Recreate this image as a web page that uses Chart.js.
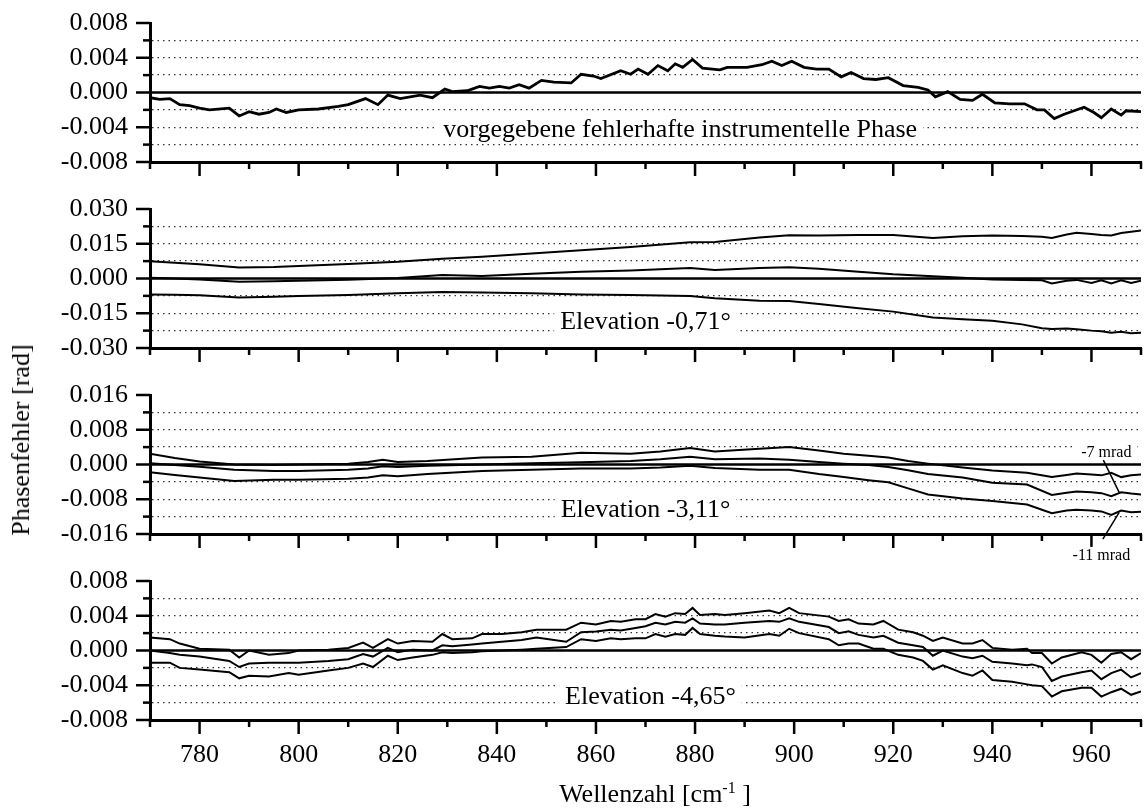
<!DOCTYPE html>
<html lang="de">
<head>
<meta charset="utf-8">
<title>Phasenfehler</title>
<script src="https://cdn.jsdelivr.net/npm/chart.js@4.4.1/dist/chart.umd.min.js"></script>
<style>
body{margin:0;background:#fff;color:#000;font-family:"Liberation Serif","Times New Roman",serif}
#wrap{position:relative;width:1146px;height:811px;overflow:hidden}
canvas{position:absolute;left:0}
#ytitle{position:absolute;left:21px;top:440px;font-size:26px;line-height:1;white-space:nowrap;transform:translate(-50%,-50%) rotate(-90deg)}
#xtitle{position:absolute;left:655px;top:781px;font-size:26px;line-height:1;white-space:nowrap;transform:translateX(-50%)}
#xtitle span{font-size:16px;position:relative;top:-9px}
</style>
</head>
<body>
<div id="wrap">
<canvas id="c1" width="1146"></canvas>
<canvas id="c2" width="1146"></canvas>
<canvas id="c3" width="1146"></canvas>
<canvas id="c4" width="1146"></canvas>
<div id="ytitle">Phasenfehler [rad]</div>
<div id="xtitle">Wellenzahl [cm<span>-1</span> ]</div>
</div>
<script>
// instrumental phase (given, faulty)
var phaseX = [770,772,774,776,778,780,782,786,788,790,792,794,795.5,797.5,800,804,808,810,813.5,816,
  818,820.5,824.5,827,829.5,831,834,836.5,838.5,840.5,842.5,844.5,846.5,849,851.5,855,857,859.5,861,865,
  867,868.5,870.5,872.5,874.5,876,877.5,879.5,881.5,883.5,885,886.5,890.5,893.5,895.5,897.5,899.5,902,904.5,907,
  909.5,911.5,914,916.5,919,922,925,927,928.5,931,933.5,936,938,940.5,943.5,946.5,949,950.5,952.5,954.5,
  956.5,958.5,960.5,962,964,966,967,970];
var phaseY = [-0.0006,-0.0008,-0.0007,-0.0014,-0.0015,-0.0018,-0.0020,-0.0018,-0.0027,-0.0022,-0.0025,-0.0023,-0.0019,-0.0023,-0.0020,-0.0019,-0.0016,-0.0014,-0.0007,-0.0014,
  -0.0003,-0.0007,-0.0003,-0.0006,0.0004,0.0001,0.0002,0.0007,0.0005,0.0007,0.0005,0.0009,0.0005,0.0014,0.0012,0.0011,0.0021,0.0019,0.0016,0.0025,
  0.0021,0.0027,0.0021,0.0031,0.0025,0.0033,0.0029,0.0038,0.0028,0.0027,0.0026,0.0029,0.0029,0.0032,0.0036,0.0031,0.0036,0.0029,0.0027,0.0027,
  0.0018,0.0023,0.0016,0.0015,0.0017,0.0008,0.0006,0.0003,-0.0005,0.0001,-0.0008,-0.0009,-0.0002,-0.0012,-0.0013,-0.0013,-0.0020,-0.0020,-0.0030,-0.0025,
  -0.0021,-0.0017,-0.0023,-0.0029,-0.0019,-0.0026,-0.0021,-0.0022];

// elevation -0,71 deg
var el071X = [770,775,780,788,795,800,810,820,829,837,847,857,867,879,884,893,899,905,913,920,
  928,934,940,946,950,952,955,957,960,962,964,966,968,970];
var el071Up = [0.0075,0.0068,0.0062,0.0048,0.0050,0.0054,0.0063,0.0072,0.0085,0.0094,0.0108,0.0122,0.0136,0.0157,0.0158,0.0177,0.0187,0.0186,0.0188,0.0188,
  0.0175,0.0182,0.0186,0.0183,0.0180,0.0175,0.0190,0.0197,0.0192,0.0188,0.0186,0.0196,0.0202,0.0207];
var el071Mid = [0.0003,0.0000,-0.0004,-0.0014,-0.0012,-0.0010,-0.0005,0.0002,0.0015,0.0011,0.0020,0.0029,0.0035,0.0045,0.0037,0.0045,0.0049,0.0042,0.0029,0.0018,
  0.0010,0.0003,-0.0004,-0.0006,-0.0008,-0.0021,-0.0010,-0.0006,-0.0019,-0.0008,-0.0021,-0.0008,-0.0019,-0.0010];
var el071Low = [-0.0069,-0.0070,-0.0072,-0.0082,-0.0079,-0.0076,-0.0071,-0.0064,-0.0058,-0.0060,-0.0064,-0.0069,-0.0071,-0.0076,-0.0085,-0.0096,-0.0097,-0.0110,-0.0128,-0.0143,
  -0.0168,-0.0176,-0.0182,-0.0198,-0.0215,-0.0218,-0.0216,-0.0219,-0.0225,-0.0228,-0.0234,-0.0230,-0.0236,-0.0234];

// elevation -3,11 deg
var el311X = [770,775,780,787,795,800,810,814,817,820,826,837,847,857,867,873,879,884,893,899,
  905,910,915,919,923,927,934,940,947,952,955,957,960,962,964,966,968,970];
var el311Up = [0.0025,0.0015,0.0007,0.0000,-0.0001,0.0000,0.0002,0.0006,0.0011,0.0006,0.0008,0.0016,0.0018,0.0027,0.0025,0.0030,0.0038,0.0030,0.0036,0.0040,
  0.0032,0.0025,0.0020,0.0016,0.0008,0.0002,-0.0007,-0.0014,-0.0019,-0.0029,-0.0024,-0.0021,-0.0023,-0.0025,-0.0019,-0.0029,-0.0025,-0.0023];
var el311Mid = [0.0003,-0.0001,-0.0005,-0.0012,-0.0015,-0.0015,-0.0012,-0.0009,-0.0004,-0.0006,-0.0003,0.0000,0.0003,0.0005,0.0008,0.0012,0.0018,0.0012,0.0014,0.0011,
  0.0006,0.0002,-0.0001,-0.0006,-0.0013,-0.0022,-0.0030,-0.0042,-0.0046,-0.0070,-0.0065,-0.0062,-0.0064,-0.0066,-0.0073,-0.0064,-0.0067,-0.0069];
var el311Low = [-0.0018,-0.0024,-0.0030,-0.0038,-0.0035,-0.0035,-0.0033,-0.0030,-0.0025,-0.0027,-0.0022,-0.0015,-0.0012,-0.0009,-0.0009,-0.0007,-0.0003,-0.0008,-0.0012,-0.0012,
  -0.0022,-0.0029,-0.0036,-0.0041,-0.0055,-0.0069,-0.0078,-0.0084,-0.0092,-0.0112,-0.0106,-0.0104,-0.0106,-0.0108,-0.0116,-0.0106,-0.0110,-0.0109];

// elevation -4,65 deg
var el465X = [770,774,776,780,786,788,790,794,798,800,806,810,813,815,818,820,823,827,829,831,
  835,837,841,845,848,854,857,860,863,865,868,870,872,874,876,878,879.5,881,884,886,
  890,895,897,899,901,907,909,911,913,916,918,921,924,926,928,930,934,936,938,940,
  944,947,948,950,952,954,958,960,962,964,966,968,970];
var el465Up = [0.0015,0.0013,0.0008,0.0002,0.0001,-0.0008,0.0000,-0.0005,-0.0003,0.0000,0.0001,0.0003,0.0009,0.0003,0.0013,0.0008,0.0011,0.0010,0.0019,0.0013,
  0.0014,0.0019,0.0019,0.0021,0.0024,0.0024,0.0032,0.0030,0.0034,0.0033,0.0036,0.0036,0.0042,0.0039,0.0043,0.0042,0.0049,0.0041,0.0042,0.0041,
  0.0043,0.0046,0.0043,0.0049,0.0043,0.0039,0.0034,0.0036,0.0031,0.0030,0.0034,0.0024,0.0021,0.0017,0.0011,0.0015,0.0008,0.0008,0.0012,0.0003,
  0.0001,0.0002,-0.0003,-0.0003,-0.0015,-0.0008,-0.0002,-0.0005,-0.0014,-0.0004,-0.0002,-0.0010,-0.0003];
var el465Mid = [0.0000,-0.0003,-0.0005,-0.0007,-0.0012,-0.0019,-0.0015,-0.0014,-0.0014,-0.0014,-0.0012,-0.0010,-0.0004,-0.0007,0.0003,-0.0002,0.0001,0.0000,0.0006,0.0005,
  0.0007,0.0008,0.0010,0.0012,0.0015,0.0010,0.0021,0.0022,0.0024,0.0023,0.0026,0.0028,0.0032,0.0030,0.0033,0.0032,0.0037,0.0031,0.0030,0.0030,
  0.0032,0.0034,0.0033,0.0037,0.0033,0.0027,0.0020,0.0022,0.0018,0.0015,0.0017,0.0009,0.0006,0.0004,-0.0006,0.0000,-0.0007,-0.0009,-0.0006,-0.0013,
  -0.0015,-0.0017,-0.0016,-0.0019,-0.0035,-0.0030,-0.0025,-0.0023,-0.0033,-0.0026,-0.0022,-0.0031,-0.0026];
var el465Low = [-0.0014,-0.0014,-0.0020,-0.0022,-0.0025,-0.0032,-0.0029,-0.0030,-0.0026,-0.0028,-0.0023,-0.0020,-0.0015,-0.0019,-0.0006,-0.0011,-0.0008,-0.0005,-0.0002,-0.0003,
  -0.0002,-0.0001,0.0000,0.0001,0.0002,0.0004,0.0013,0.0011,0.0014,0.0013,0.0014,0.0014,0.0019,0.0016,0.0019,0.0018,0.0026,0.0019,0.0017,0.0016,
  0.0015,0.0019,0.0017,0.0025,0.0020,0.0013,0.0006,0.0008,0.0008,0.0002,0.0002,-0.0005,-0.0008,-0.0012,-0.0022,-0.0017,-0.0026,-0.0029,-0.0023,-0.0034,
  -0.0036,-0.0039,-0.0040,-0.0041,-0.0053,-0.0047,-0.0043,-0.0043,-0.0053,-0.0048,-0.0044,-0.0051,-0.0047];

var xRange = [770, 970];
var serif = "'Liberation Serif', 'Times New Roman', serif";

function pts(xs, ys) {
  return xs.map(function(x, i) { return {x: x, y: ys[i]}; });
}

function onStep(v, s) {
  var r = v / s;
  return Math.abs(r - Math.round(r)) < 1e-6;
}

// tick marks (long on labelled values, short in between) and text notes
function marksPlugin(o) {
  return {
    id: 'marks',
    afterDraw: function(chart) {
      var ctx = chart.ctx, a = chart.chartArea, xs = chart.scales.x, ys = chart.scales.y;
      ctx.save();
      ctx.strokeStyle = '#000';
      ctx.lineWidth = 2.5;
      xs.ticks.forEach(function(t) {
        var x = xs.getPixelForValue(t.value);
        var len = onStep(t.value - 780, 20) ? 14 : 7;
        ctx.beginPath(); ctx.moveTo(x, a.bottom); ctx.lineTo(x, a.bottom + len); ctx.stroke();
      });
      ys.ticks.forEach(function(t) {
        var y = ys.getPixelForValue(t.value);
        var len = onStep(t.value, o.labelStep) ? 14 : 7;
        ctx.beginPath(); ctx.moveTo(a.left, y); ctx.lineTo(a.left - len, y); ctx.stroke();
      });

      ctx.textAlign = 'center';
      ctx.textBaseline = 'alphabetic';
      (o.notes || []).forEach(function(n) {
        var px = xs.getPixelForValue(n.x), py = ys.getPixelForValue(n.y);
        ctx.font = n.size + 'px ' + serif;
        var w = ctx.measureText(n.text).width;
        ctx.fillStyle = '#fff';
        ctx.fillRect(px - w / 2 - 6, py - n.size * 0.85, w + 12, n.size * 1.04);
        ctx.fillStyle = '#000';
        ctx.fillText(n.text, px, py);
      });
      ctx.lineWidth = 1.5;
      (o.leaders || []).forEach(function(l) {
        ctx.beginPath();
        ctx.moveTo(xs.getPixelForValue(l[0]), ys.getPixelForValue(l[1]));
        ctx.lineTo(xs.getPixelForValue(l[2]), ys.getPixelForValue(l[3]));
        ctx.stroke();
      });
      ctx.restore();
    }
  };
}

function panel(id, o) {
  var cv = document.getElementById(id);
  cv.style.top = (o.top - 18) + 'px';
  cv.height = 18 + 139 + o.bottom;

  var sets = [{data: pts(xRange, [0, 0]), borderWidth: 2.5}];
  o.lines.forEach(function(l) { sets.push({data: l, borderWidth: o.width}); });
  sets.forEach(function(s) {
    s.borderColor = '#000';
    s.pointRadius = 0;
    s.tension = 0;
    s.fill = false;
  });

  return new Chart(cv, {
    type: 'line',
    data: {datasets: sets},
    options: {
      responsive: false,
      animation: false,
      events: [],
      layout: {padding: {top: 18, right: 5, left: 0, bottom: 0}},
      plugins: {legend: {display: false}, tooltip: {enabled: false}},
      scales: {
        x: {
          type: 'linear', min: xRange[0], max: xRange[1],
          afterFit: function(s) { s.height = o.bottom; },
          ticks: {
            display: !!o.xLabels, stepSize: 10, autoSkip: false, maxRotation: 0, padding: 0,
            color: '#000', font: {family: serif, size: 26},
            callback: function(v) { return onStep(v - 780, 20) ? String(v) : ''; }
          },
          // invisible tick marks only push the labels away from the axis
          grid: {drawOnChartArea: false, drawTicks: true, tickLength: 20, tickColor: 'rgba(0,0,0,0)'},
          border: {color: '#000', width: 3}
        },
        y: {
          min: o.min, max: o.max,
          afterFit: function(s) { s.width = 150; },
          ticks: {
            stepSize: o.step, autoSkip: false, padding: 0,
            color: '#000', font: {family: serif, size: 26},
            callback: function(v) { return onStep(v, o.labelStep) ? v.toFixed(3) : ''; }
          },
          grid: {
            drawTicks: true, tickLength: 22, tickColor: 'rgba(0,0,0,0)', lineWidth: 1.3,
            color: function(c) {
              var v = c.tick.value;
              return (Math.abs(v) < 1e-9 || v > o.max - 1e-9 || v < o.min + 1e-9) ? 'rgba(0,0,0,0)' : '#333';
            }
          },
          border: {color: '#000', width: 3, dash: [1.5, 4]}
        }
      }
    },
    plugins: [marksPlugin(o)]
  });
}

panel('c1', {
  top: 23, bottom: 22, min: -0.008, max: 0.008, step: 0.002, labelStep: 0.004, width: 2.8,
  lines: [pts(phaseX, phaseY)],
  notes: [{text: 'vorgegebene fehlerhafte instrumentelle Phase', x: 877, y: -0.0051, size: 26}]
});

panel('c2', {
  top: 209, bottom: 22, min: -0.03, max: 0.03, step: 0.0075, labelStep: 0.015, width: 2,
  lines: [pts(el071X, el071Up), pts(el071X, el071Mid), pts(el071X, el071Low)],
  notes: [{text: 'Elevation -0,71°', x: 870, y: -0.0216, size: 26}]
});

panel('c3', {
  top: 395, bottom: 45, min: -0.016, max: 0.016, step: 0.004, labelStep: 0.008, width: 2,
  lines: [pts(el311X, el311Up), pts(el311X, el311Mid), pts(el311X, el311Low)],
  notes: [
    {text: 'Elevation -3,11°', x: 870, y: -0.0121, size: 26},
    {text: '-7 mrad', x: 963, y: 0.0017, size: 16},
    {text: '-11 mrad', x: 962, y: -0.0221, size: 16}
  ],
  leaders: [[962.4, 0.0010, 965.6, -0.0064], [962.3, -0.0172, 965.6, -0.0110]]
});

panel('c4', {
  top: 581, bottom: 60, min: -0.008, max: 0.008, step: 0.002, labelStep: 0.004, width: 2,
  xLabels: true,
  lines: [pts(el465X, el465Up), pts(el465X, el465Mid), pts(el465X, el465Low)],
  notes: [{text: 'Elevation -4,65°', x: 871, y: -0.0062, size: 26}]
});
</script>
</body>
</html>
